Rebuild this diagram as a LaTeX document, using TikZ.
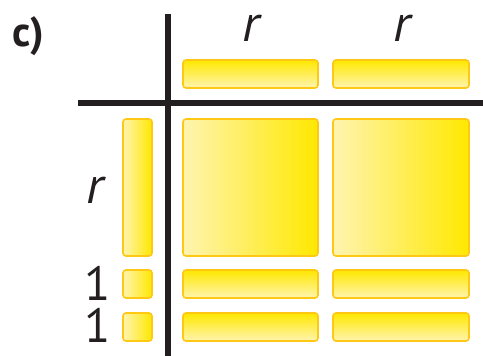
\documentclass[tikz,border=0pt]{standalone}
\usepackage{fontspec}
\setmainfont{PT Sans}
\begin{document}
\begin{tikzpicture}[x=1pt,y=-1pt,
  tileborder/.style={draw=tileedge, line width=1.6pt, rounded corners=3pt},
  hgrad/.style={tileborder, left color=tilelight, right color=tilestrong},
  vgrad/.style={tileborder, top color=tilestrong, bottom color=tilelight},
  axis/.style={draw=axisgray, line width=5.5pt},
  lbl/.style={inner sep=0pt, text=axisgray, font=\fontsize{52}{52}\selectfont},
  unitlbl/.style={inner sep=0pt, text=axisgray, font=\fontsize{48}{48}\selectfont}
]
\definecolor{tileedge}{HTML}{FFC814}
\definecolor{tilelight}{HTML}{FFF4B0}
\definecolor{tilestrong}{HTML}{FFE800}
\definecolor{axisgray}{HTML}{231F20}
\useasboundingbox (0,0) rectangle (483,356);

% axes
\coordinate (vtop) at (168,14);
\coordinate (vbot) at (168,356);
\coordinate (hleft) at (78,103);
\coordinate (hright) at (483,103);
\draw[axis] (vtop) -- (vbot);
\draw[axis] (hleft) -- (hright);

% part label
\node[inner sep=0pt, text=axisgray, font=\fontsize{42}{42}\selectfont\bfseries] (lab) at (28,36) {c)};

% top r tiles
\node[lbl] (rt1) at (251,28) {\itshape r};
\node[lbl] (rt2) at (402,28) {\itshape r};
\path[vgrad] (183,60) rectangle (318,88);
\path[vgrad] (333,60) rectangle (469,88);

% left tiles
\node[lbl] (rl) at (95,190) {\itshape r};
\path[hgrad] (123,119) rectangle (152,256);
\node[unitlbl, anchor=base] (one1) at (98,300) {1};
\node[unitlbl, anchor=base] (one2) at (98,342) {1};
\path[hgrad] (123,270) rectangle (152,298);
\path[hgrad] (123,313) rectangle (152,341);

% product: r^2 squares
\path[hgrad] (183,119) rectangle (318,256);
\path[hgrad] (333,119) rectangle (469,256);

% product: r tiles
\path[vgrad] (183,270) rectangle (318,298);
\path[vgrad] (333,270) rectangle (469,298);
\path[vgrad] (183,313) rectangle (318,341);
\path[vgrad] (333,313) rectangle (469,341);
\end{tikzpicture}
\end{document}
